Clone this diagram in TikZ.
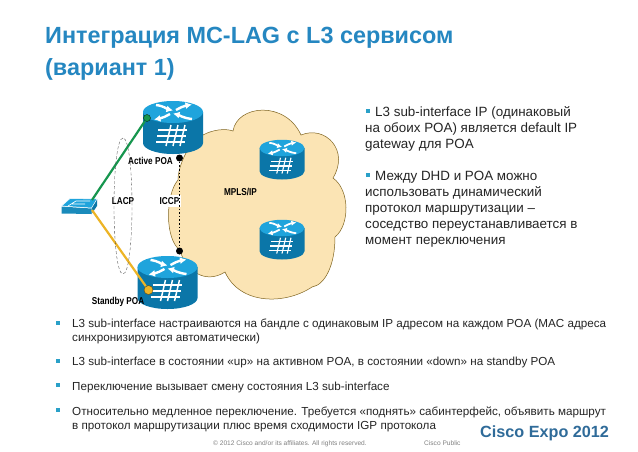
\documentclass[tikz,border=0pt]{standalone}
\usepackage{fontspec}
\setmainfont{Liberation Sans}
\usetikzlibrary{arrows.meta}
\definecolor{titleblue}{HTML}{2587C1}
\definecolor{bullet}{HTML}{2AA0C8}
\definecolor{rbody}{HTML}{0B76A8}
\definecolor{rtop}{HTML}{1FA4DC}
\definecolor{cloudfill}{HTML}{FBE4B4}
\definecolor{cloudline}{HTML}{7F6420}
\definecolor{txt}{HTML}{252525}
\definecolor{glink}{HTML}{16964E}
\definecolor{ylink}{HTML}{EDB425}
\definecolor{expo}{HTML}{2F6B99}
\tikzset{
 x=1pt,y=-1pt,
 titlet/.style={anchor=base west,inner sep=0,text=titleblue,font=\fontsize{23.4}{26}\selectfont\bfseries},
 rt/.style={anchor=base west,inner sep=0,text=txt,font=\fontsize{13.4}{15}\selectfont},
 bt/.style={anchor=base west,inner sep=0,text=txt,font=\fontsize{11.66}{14}\selectfont},
 bul/.style={anchor=center,inner sep=0,minimum size=4pt,fill=bullet},
 lab/.style={inner sep=0,text=black,font=\fontsize{10}{12}\selectfont\bfseries},
 foot/.style={anchor=base west,inner sep=0,text=black!50,font=\fontsize{6.6}{8}\selectfont},
 pics/router/.style={code={
   \fill[rbody] (-30,0) -- (-30,31) arc[x radius=30,y radius=11,start angle=180,end angle=0] -- (30,0) -- cycle;
   \fill[rtop] (0,0) ellipse[x radius=30,y radius=11];
   \begin{scope}[white,line width=#1*2.4pt,-{Latex[length=#1*6.5pt,width=#1*7pt]}]
     \draw (-17,-7) .. controls (-9,-6) and (-6,-3) .. (0,-1.5);
     \draw (19,7) .. controls (10,6) and (6,3) .. (0,1.5);
     \draw (3,-2) .. controls (7,-4) and (10,-6) .. (19,-7.5);
     \draw (-3,2) .. controls (-7,4) and (-10,6) .. (-19,7.5);
   \end{scope}
   \begin{scope}[white,line width=#1*1.5pt]
     \draw (-15,18) -- (14,18); \draw (-16,24) -- (13,24); \draw (-17,30) -- (12,30);
     \draw (-7,34) -- (-2,13); \draw (0,34) -- (5,13); \draw (7,34) -- (12,13);
   \end{scope}
 }}
}
\newcommand{\nar}[1]{\scalebox{.82}[1]{#1}}
\begin{document}
\begin{tikzpicture}
\useasboundingbox (0,0) rectangle (638,451);
\fill[white] (0,0) rectangle (638,451);
% title
\node[titlet] (t1) at (45,43) {Интеграция MC-LAG с L3 сервисом};
\node[titlet] (t2) at (45,75) {(вариант 1)};
% cloud
\filldraw[fill=cloudfill,draw=cloudline,line width=.5pt]
 (203,135) .. controls (212,130) and (225,128) .. (233,131)
 .. controls (237,105) and (285,100) .. (301,135)
 .. controls (325,125) and (350,150) .. (333,178)
 .. controls (350,190) and (350,225) .. (335,237)
 .. controls (335,265) and (325,285) .. (312,287)
 .. controls (285,305) and (240,305) .. (225,272)
 .. controls (205,285) and (185,270) .. (180,250)
 .. controls (165,240) and (165,195) .. (178,180)
 .. controls (178,165) and (190,140) .. (203,135) -- cycle;
% routers
\pic[scale=.75] at (282,148) {router={.75}};
\pic[scale=.75] at (282,228) {router={.75}};
\pic at (173,112) {router={1}};
\pic at (167.5,267) {router={1}};
% labels with white ground
\node[lab,anchor=center,fill=white,inner xsep=1pt,inner ysep=2pt] (lacp) at (123,201) {\nar{LACP}};
\node[lab,anchor=center,fill=white,inner xsep=1.5pt,inner ysep=2pt] (iccp) at (169.5,201) {\nar{ICCP}};
% named anchors
\node[circle,fill=black,inner sep=0,minimum size=7pt] (d1) at (179.5,158) {};
\node[circle,fill=black,inner sep=0,minimum size=7pt] (d2) at (179.5,251) {};
\node[circle,fill=glink,draw=black!70!glink,line width=.4pt,inner sep=0,minimum size=7pt] (gd) at (147,118) {};
\node[circle,fill=ylink,draw=black!60!ylink,line width=.4pt,inner sep=0,minimum size=9pt] (yd) at (148.5,290) {};
% switch
\fill[rtop] (61.5,206) -- (70,198.5) -- (97,199) -- (91.5,208) -- cycle;
\fill[rbody] (91.5,208) -- (97,199) -- (97,206) -- (91.5,214) -- cycle;
\fill[rtop!85!black] (61.5,206.5) -- (91.5,208.5) -- (91.5,214) -- (61.5,213.5) -- cycle;
\draw[white,line width=.5pt] (61.5,206) -- (70,198.5) -- (97,199) -- (91.5,208) -- cycle;
\draw[white,line width=.7pt] (72,204) -- (85,204) (76,201) -- (90,201) (68,206) -- (76,201);
\coordinate (swg) at (92,200);
\coordinate (swy) at (92,210);
% links
\draw[glink,line width=2.2pt] (swg) -- (gd);
\draw[ylink,line width=2.2pt] (swy) -- (yd);
\draw[black,line width=1.6pt,dotted] (d1) -- (d2);
\draw[black!70,line width=.35pt,densely dashed] (123,138) .. controls (111,138) and (111,274) .. (123,274) .. controls (135,274) and (135,138) .. (123,138) -- cycle;
% labels
\node[lab,anchor=center] (active) at (150.5,161) {\nar{Active POA}};
\node[lab,anchor=center] (standby) at (118,302) {\nar{Standby POA}};
\node[lab,anchor=center] (mpls) at (240.5,192) {\nar{MPLS/IP}};
% right text
\node[bul] (rb1) at (368,111) {};
\node[rt] (r1) at (375,116.5) {L3 sub-interface IP (одинаковый};
\node[rt] (r2) at (365,132.5) {на обоих POA) является default IP};
\node[rt] (r3) at (365,148) {gateway для POA};
\node[bul] (rb2) at (368,175) {};
\node[rt] (r4) at (375,180.5) {Между DHD и POA можно};
\node[rt] (r5) at (365,196) {использовать динамический};
\node[rt] (r6) at (365,212) {протокол маршрутизации –};
\node[rt] (r7) at (365,228) {соседство переустанавливается в};
\node[rt] (r8) at (365,244) {момент переключения};
% bottom text
\node[bul] (bb1) at (57.5,323) {};
\node[bt] (b1) at (72,327) {L3 sub-interface настраиваются на бандле с одинаковым IP адресом на каждом POA (MAC адреса};
\node[bt] (b2) at (72,341) {синхронизируются автоматически)};
\node[bul] (bb2) at (57.5,360.5) {};
\node[bt] (b3) at (72,365) {L3 sub-interface в состоянии «up» на активном POA, в состоянии «down» на standby POA};
\node[bul] (bb3) at (57.5,385) {};
\node[bt] (b4) at (72,390) {Переключение вызывает смену состояния L3 sub-interface};
\node[bul] (bb4) at (57.5,410) {};
\node[bt] (b5) at (72,415) {Относительно медленное переключение. Требуется «поднять» сабинтерфейс, объявить маршрут};
\node[bt] (b6) at (72,429) {в протокол маршрутизации плюс время сходимости IGP протокола};
% footer
\node[foot] (f1) at (213,445.5) {© 2012 Cisco and/or its affiliates. All rights reserved.};
\node[foot] (f2) at (424,445.5) {Cisco Public};
\node[anchor=base west,inner sep=0,text=expo,font=\fontsize{16.2}{20}\selectfont\bfseries] (expo) at (480,437) {Cisco Expo 2012};
\end{tikzpicture}
\end{document}
